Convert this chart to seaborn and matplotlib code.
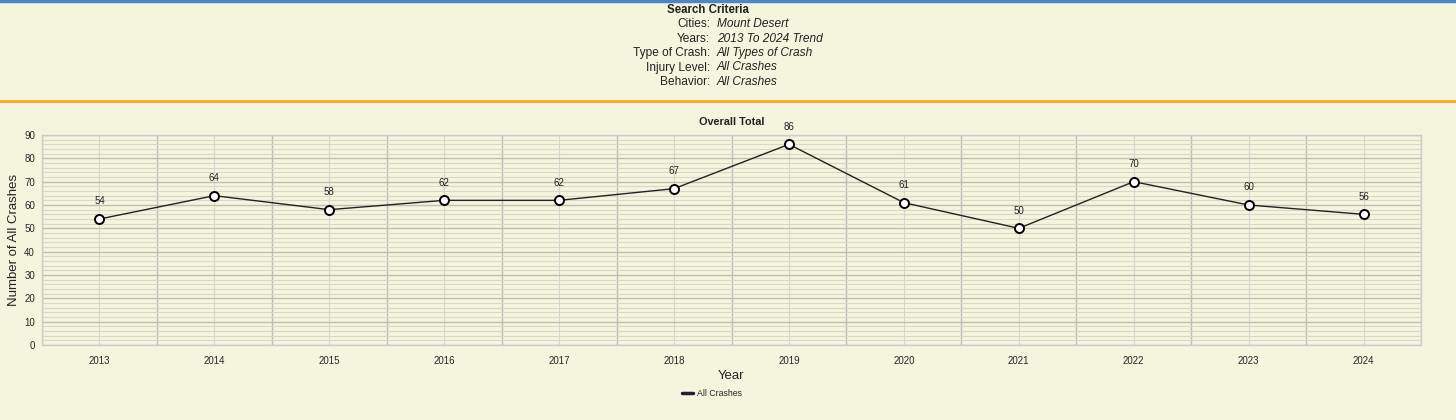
import pandas as pd
import numpy as np
import matplotlib
matplotlib.use("Agg")
import matplotlib.pyplot as plt
from matplotlib.lines import Line2D
import seaborn as sns

# dados
years = [2013, 2014, 2015, 2016, 2017, 2018, 2019, 2020, 2021, 2022, 2023, 2024]
crashes = [54, 64, 58, 62, 62, 67, 86, 61, 50, 70, 60, 56]
criteria_labels = ["Cities:", "Years:", "Type of Crash:", "Injury Level:", "Behavior:"]
criteria_values = ["Mount Desert", "2013 To 2024 Trend", "All Types of Crash",
                   "All Crashes", "All Crashes"]

df = pd.DataFrame({"Year": years, "Crashes": crashes})

sns.set_style("white")
plt.rcParams["font.family"] = ["Liberation Sans", "DejaVu Sans"]

bg = "#f5f5dd"
fig = plt.figure(figsize=(14.56, 4.2), dpi=100, facecolor=bg)

# faixa de critérios no topo
fig.add_artist(Line2D([0, 1], [0.997, 0.997], color="#4a86c8", lw=2.5))
fig.add_artist(Line2D([0, 1], [0.760, 0.760], color="#f5a623", lw=2))
fig.text(0.486, 1 - 10 / 420, "Search Criteria", ha="center", va="center",
         fontsize=8.3, fontweight="bold", color="#222222")
for i, (lab, val) in enumerate(zip(criteria_labels, criteria_values)):
    y = 1 - (24 + i * 14.5) / 420
    fig.text(710 / 1456, y, lab, ha="right", va="center", fontsize=8.6, color="#222222")
    fig.text(717 / 1456, y, val, ha="left", va="center", fontsize=8.6,
             style="italic", color="#222222")

# gráfico
ax = fig.add_axes([42 / 1456, 75 / 420, (1421 - 42) / 1456, 210 / 420])
ax.set_facecolor(bg)
sns.lineplot(data=df, x="Year", y="Crashes", ax=ax, color="#222222", lw=1,
             marker="o", markersize=6.5, markerfacecolor="white",
             markeredgecolor="black", markeredgewidth=1.4, zorder=5)

for x, y in zip(years, crashes):
    ax.annotate(str(y), (x, y), xytext=(0, 9), textcoords="offset points",
                ha="center", va="bottom", fontsize=7, color="#222222")

ax.set_xlim(years[0] - 0.5, years[-1] + 0.5)
ax.set_ylim(0, 90)
ax.set_xticks(years)
ax.set_xticklabels([str(y) for y in years], fontsize=7)
ax.set_xticks(np.arange(years[0] - 0.5, years[-1] + 1, 1), minor=True)
ax.set_yticks(range(0, 91, 10))
ax.set_yticks(range(0, 91, 2), minor=True)
ax.tick_params(axis="y", labelsize=7, length=3, color="#aaaaaa", pad=2)
ax.tick_params(axis="x", which="major", length=0, pad=8)
ax.tick_params(axis="x", which="minor", length=4, color="#bbbbbb")
ax.grid(True, axis="y", which="minor", color="#d8d8c8", lw=0.8)
ax.grid(True, axis="y", which="major", color="#c0c0b0", lw=1)
ax.grid(True, axis="x", which="major", color="#d4d4d4", lw=0.8)
ax.grid(True, axis="x", which="minor", color="#bcbcbc", lw=1)
ax.set_axisbelow(True)
for s in ["top", "right", "left", "bottom"]:
    ax.spines[s].set_color("#cccccc")
    ax.spines[s].set_linewidth(1)

ax.set_title("Overall Total", fontsize=7.8, fontweight="bold", pad=7, color="#222222")
ax.set_xlabel("Year", fontsize=9.5, labelpad=3, color="#222222")
ax.set_ylabel("Number of All Crashes", fontsize=9.5, labelpad=3, color="#222222")

handle = Line2D([], [], color="#222233", lw=2.5)
fig.legend([handle], ["All Crashes"], loc="center", bbox_to_anchor=(712 / 1456, 1 - 394 / 420),
           frameon=False, fontsize=6.3, handlelength=1.2, handletextpad=0.5)

fig.savefig("out.png", dpi=100, facecolor=bg)
